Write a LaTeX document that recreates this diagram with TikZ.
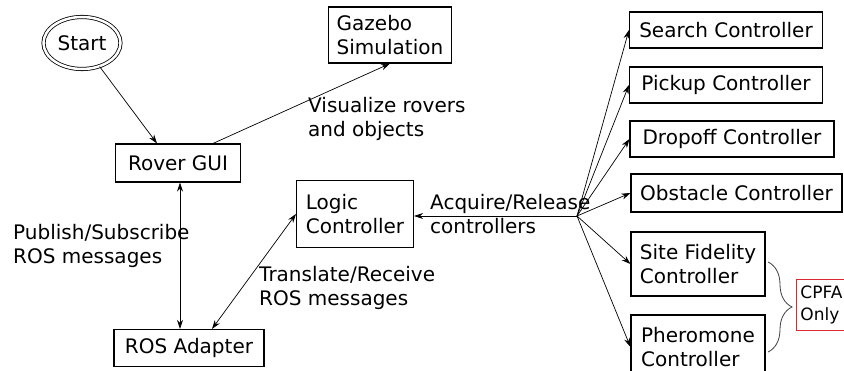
\documentclass[tikz,border=0pt]{standalone}
\usepackage{fontspec}
\setmainfont{DejaVu Sans}
\usetikzlibrary{arrows.meta,shapes.geometric,decorations.pathreplacing}
\definecolor{cpfared}{RGB}{220,40,50}

\tikzset{
  box/.style={draw,line width=1.1pt,align=left,inner sep=0pt},
  arr/.style={-{Stealth[length=9pt,width=6pt]},line width=0.7pt},
  biarr/.style={{Stealth[length=9pt,width=6pt]}-{Stealth[length=9pt,width=6pt]},line width=0.7pt},
  lbl/.style={align=left,inner sep=0pt,anchor=west}
}

\begin{document}
\begin{tikzpicture}[x=1pt,y=-1pt,font=\fontsize{20}{24}\selectfont]
\useasboundingbox (0,0) rectangle (844,371);
% left side
\node[draw,ellipse,double,double distance=2.5pt,line width=0.8pt,minimum width=77pt,minimum height=52pt,inner sep=0pt] (start) at (82,43) {Start};
\node[box,minimum width=125pt,minimum height=38pt] (gui) at (178,163) {Rover GUI};
\node[box,minimum width=123pt,minimum height=56pt] (gazebo) at (390,35) {Gazebo\\Simulation};
\node[box,minimum width=117pt,minimum height=67pt] (logic) at (355,214) {Logic\\Controller};
\node[box,minimum width=150pt,minimum height=37pt] (adapter) at (189,348) {ROS Adapter};
% controllers
\node[box,minimum width=193pt,minimum height=36pt] (search) at (726,30) {Search Controller};
\node[box,minimum width=193pt,minimum height=36pt] (pickup) at (726,85) {Pickup Controller};
\node[box,minimum width=204pt,minimum height=36pt] (dropoff) at (732,139) {Dropoff Controller};
\node[box,minimum width=211pt,minimum height=38pt] (obstacle) at (736.5,193) {Obstacle Controller};
\node[box,minimum width=134pt,minimum height=64pt] (site) at (698,264) {Site Fidelity\\Controller};
\node[box,minimum width=134pt,minimum height=64pt] (pheromone) at (698,347) {Pheromone\\Controller};
\node[draw=cpfared,line width=0.9pt,align=left,inner xsep=4pt,inner ysep=0pt,text width=52pt,minimum height=51pt,anchor=west,font=\fontsize{17}{22}\selectfont] (cpfa) at (796,304.5) {CPFA\\Only};
\coordinate (hub) at (577,216);
% connectors
\draw[arr] (start) -- ([xshift=-21pt]gui.north);
\draw[arr] ([xshift=35pt]gui.north) -- (gazebo.south);
\draw[biarr] ([xshift=2pt]gui.south) -- ([xshift=2pt]gui.south |- adapter.north);
\draw[biarr] (logic.west) -- ([xshift=23pt]adapter.north);
\draw[arr] (hub) -- (logic.east |- hub);
\foreach \ctl in {search,pickup,dropoff,obstacle,site,pheromone}
  \draw[arr] (hub) -- (\ctl.west);
\draw[decorate,decoration={brace,amplitude=24pt},line width=0.8pt,black!75] (768,262) -- (768,352);
% labels
\node[lbl] (vislbl) at (308,119) {Visualize rovers\\and objects};
\node[lbl] (acqlbl) at (430,214) {Acquire/Release\\controllers};
\node[lbl] (trlbl) at (259,288) {Translate/Receive\\ROS messages};
\node[lbl] (publbl) at (13,246) {Publish/Subscribe\\ROS messages};
\end{tikzpicture}
\end{document}
